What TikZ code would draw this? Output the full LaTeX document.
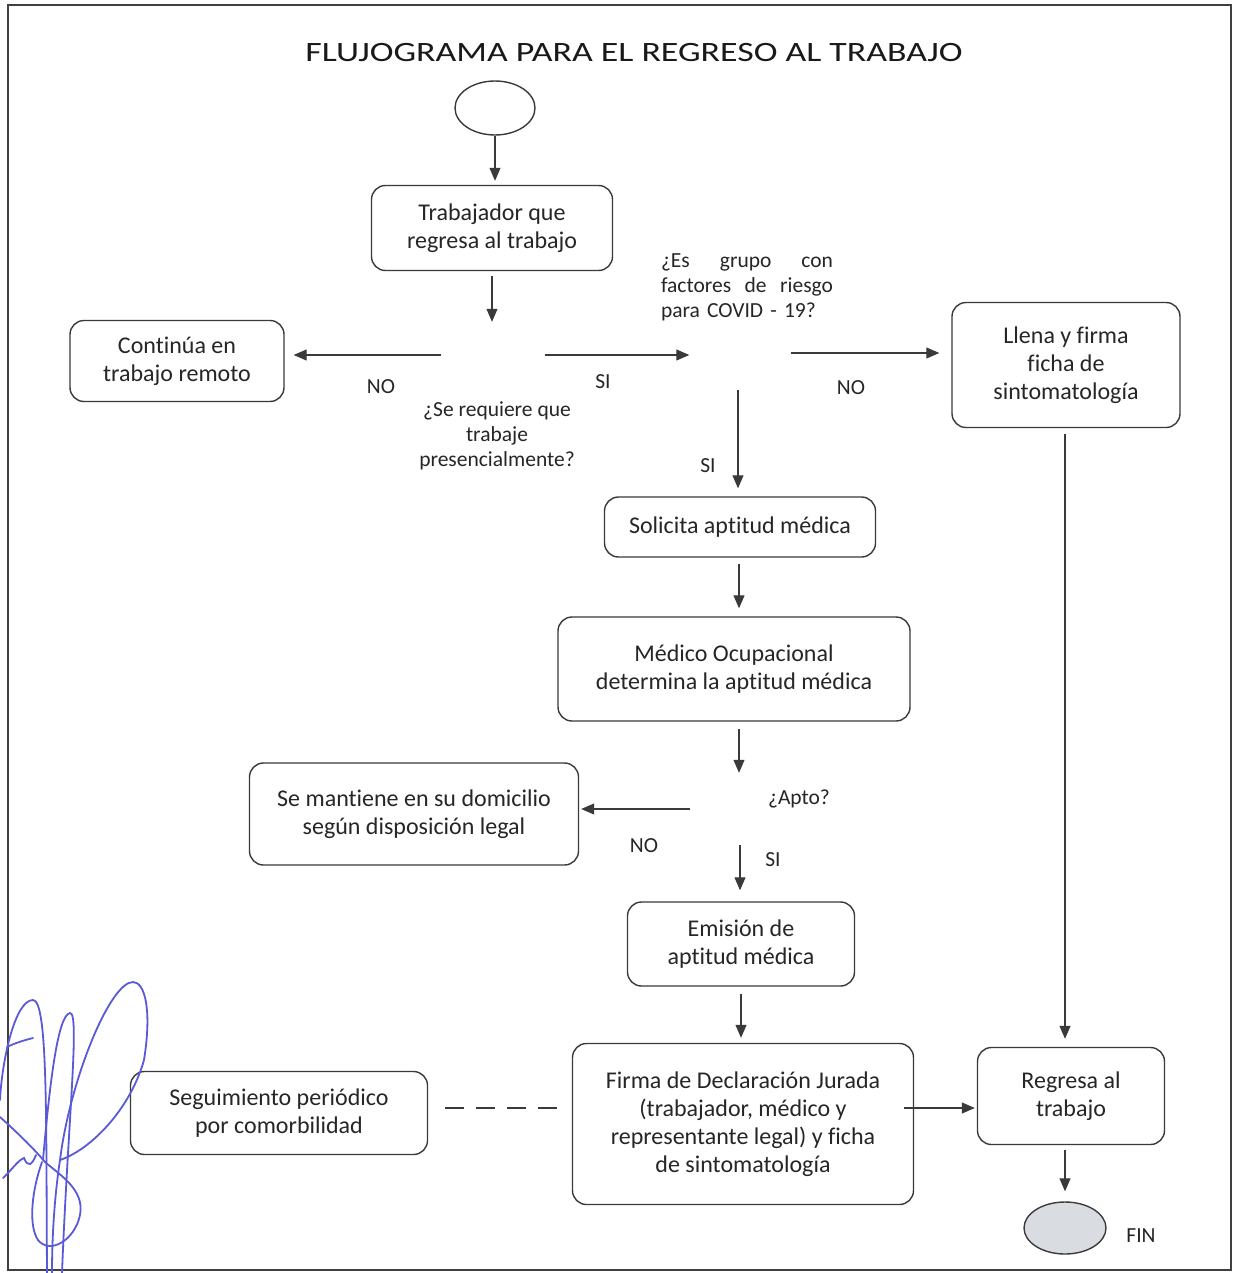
\documentclass[tikz,border=0pt]{standalone}
\usepackage{fontspec}
\setmainfont[RawFeature={-liga;-clig;-calt;-dlig}]{Carlito}
\newfontfamily\titlefont[FakeStretch=1.28]{Carlito}
\usetikzlibrary{arrows.meta,shapes.geometric}
\definecolor{ln}{HTML}{3A3A3A}
\definecolor{sig}{HTML}{5A5AD8}
\definecolor{fing}{HTML}{D9DDE2}
\tikzset{
  box/.style={draw=ln, line width=1.4pt, rounded corners=14pt, align=center, inner sep=0pt,
    font=\fontsize{24}{28}\selectfont, text=black!85},
  dec/.style={diamond, draw=none, inner sep=0pt},
  arr/.style={draw=ln, line width=1.1pt, -{Triangle[length=13pt,width=11pt]}},
  lbl/.style={font=\fontsize{21.5}{25}\selectfont, text=black!85, align=center, inner sep=0pt},
  term/.style={ellipse, draw=ln, line width=1.4pt, inner sep=0pt}
}
\begin{document}
\begin{tikzpicture}[x=1pt,y=-1pt]
\useasboundingbox (0,0) rectangle (1234,1273);
\fill[white] (0,0) rectangle (1234,1273);
\draw[black!75, line width=1.3pt] (8,5) rectangle (1231,1270);

\node[font=\titlefont\fontsize{28}{34}\selectfont, text=black!90] (title) at (634,53) {FLUJOGRAMA PARA EL REGRESO AL TRABAJO};

\node[term, minimum width=80pt, minimum height=54pt, fill=white] (start) at (495,108) {};
\node[box, minimum width=241pt, minimum height=85pt] (trab) at (492,228) {Trabajador que\\regresa al trabajo};
\node[dec, minimum width=103pt, minimum height=66pt] (d1) at (493,355) {};
\node[box, minimum width=214pt, minimum height=81pt] (cont) at (177,361) {Continúa en\\trabajo remoto};
\node[dec, minimum width=101pt, minimum height=70pt] (d2) at (740,355) {};
\node[box, minimum width=228pt, minimum height=125pt] (llena) at (1066,365) {Llena y firma\\ficha de\\sintomatología};
\node[box, minimum width=271pt, minimum height=60pt] (solic) at (740,527) {Solicita aptitud médica};
\node[box, minimum width=352pt, minimum height=104pt] (medico) at (734,669) {Médico Ocupacional\\determina la aptitud médica};
\node[dec, minimum width=100pt, minimum height=72pt] (d3) at (740,809) {};
\node[box, minimum width=329pt, minimum height=102pt] (mant) at (414,814) {Se mantiene en su domicilio\\según disposición legal};
\node[box, minimum width=227pt, minimum height=84pt] (emis) at (741,944) {Emisión de\\aptitud médica};
\node[box, minimum width=341pt, minimum height=161pt] (firma) at (743,1124) {Firma de Declaración Jurada\\(trabajador, médico y\\representante legal) y ficha\\de sintomatología};
\node[box, minimum width=297pt, minimum height=83pt] (seg) at (279,1113) {Seguimiento periódico\\por comorbilidad};
\node[box, minimum width=187pt, minimum height=97pt] (regresa) at (1071,1096) {Regresa al\\trabajo};
\node[term, minimum width=82pt, minimum height=52pt, fill=fing] (fin) at (1065,1228) {};

% texts
\node[lbl] (q1) at (497,436) {¿Se requiere que\\trabaje\\presencialmente?};
\node[lbl, text width=172pt, align=left] (q2) at (747,287) {¿Es\hfill grupo\hfill con\\factores\hfill de\hfill riesgo\\para COVID - 19?};
\node[lbl] (q3) at (799,799) {¿Apto?};
\node[lbl] (no1) at (381,387) {NO};
\node[lbl] (si1) at (603,382) {SI};
\node[lbl] (no2) at (851,388) {NO};
\node[lbl] (si2) at (708,466) {SI};
\node[lbl] (no3) at (644,846) {NO};
\node[lbl] (si3) at (773,860) {SI};
\node[lbl] (fint) at (1141,1236) {FIN};

% connectors
\draw[arr, shorten >=4pt] (start.south) -- (trab.north -| start.south);
\draw[arr, shorten <=5pt] (trab.south) -- (d1.north -| trab.south);
\draw[arr, shorten >=9pt] (d1.west) -- (d1.west -| cont.east);
\draw[arr] (d1.east) -- (d2.west);
\draw[arr, shorten >=12pt] ([yshift=2pt]d2.east) -- ([yshift=2pt]d2.east -| llena.west);
\draw[arr, shorten >=8pt] ([xshift=-2pt]d2.south) -- ([xshift=-2pt]d2.south |- solic.north);
\draw[arr, shorten <=6pt, shorten >=8pt] ([xshift=-1pt]solic.south) -- ([xshift=-1pt]solic.south |- medico.north);
\draw[arr, shorten <=7pt] ([xshift=-1pt]d3.north |- medico.south) -- ([xshift=-1pt]d3.north);
\draw[arr, shorten >=2pt] (d3.west) -- (d3.west -| mant.east);
\draw[arr, shorten >=11pt] (d3.south) -- (d3.south |- emis.north);
\draw[arr, shorten <=7pt, shorten >=5pt] (emis.south) -- (emis.south |- firma.north);
\draw[arr, shorten <=-10pt, shorten >=2pt] ([yshift=16pt]firma.east) -- ([yshift=16pt]firma.east -| regresa.west);
\draw[draw=ln, line width=1.1pt, dash pattern=on 19pt off 12pt, shorten <=15pt, shorten >=10pt] ([yshift=16pt]firma.west) -- ([yshift=16pt]firma.west -| seg.east);
\draw[arr, shorten <=6pt, shorten >=8pt] ([xshift=-1pt]llena.south) -- ([xshift=-1pt]llena.south |- regresa.north);
\draw[arr, shorten <=5pt, shorten >=10pt] (regresa.south -| fin.north) -- (fin.north);

% signature
\begin{scope}[draw=sig, line width=1.8pt, line cap=round]
\draw (0,1100) .. controls (2,1060) and (15,1000) .. (33,1000) .. controls (48,1000) and (46,1120) .. (47,1273);
\draw (43,1160) .. controls (50,1080) and (58,1015) .. (70,1013) .. controls (80,1012) and (68,1120) .. (62,1273);
\draw (60,1160) .. controls (90,1150) and (130,1110) .. (144,1060) .. controls (152,1010) and (145,982) .. (133,982) .. controls (110,982) and (70,1080) .. (60,1160) .. controls (54,1200) and (52,1240) .. (52,1273);
\draw (7,1047) .. controls (15,1043) and (25,1040) .. (33,1038);
\draw (0,1117) .. controls (20,1135) and (35,1150) .. (45,1162) .. controls (60,1175) and (85,1190) .. (80,1215) .. controls (75,1240) and (50,1255) .. (38,1240) .. controls (28,1225) and (32,1190) .. (42,1162);
\draw (3,1178) .. controls (10,1172) and (18,1160) .. (24,1158) .. controls (28,1168) and (32,1165) .. (36,1155);
\end{scope}
\end{tikzpicture}
\end{document}
